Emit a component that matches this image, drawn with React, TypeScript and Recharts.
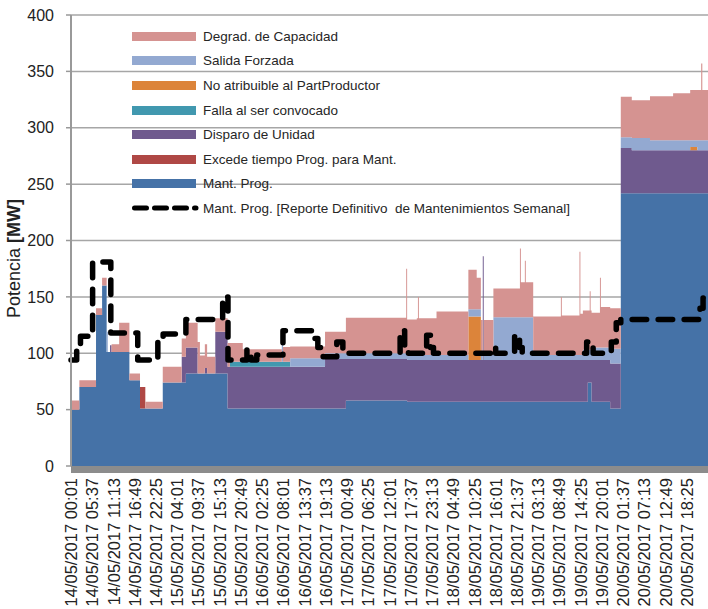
import { ComposedChart, Area, Line, XAxis, YAxis, CartesianGrid, Legend } from 'recharts'

document.body.style.margin = '0'

// hours since 14/05/2017 00:00 where the stacked values change (step after)
const hours = [0, 2.2, 6.6, 8.2, 9.4, 9.7, 10.3, 10.7, 12.7, 15.4, 18.2, 19.6, 24.2, 29.2, 30.3, 33.4, 34.0, 35.3, 35.9, 38.05, 41.3, 41.9, 45.3, 55.6, 55.9, 57.8, 67.0, 72.5, 88.4, 88.65, 91.2, 91.5, 91.75, 96.4, 104.8, 107.0, 108.1, 108.6, 108.85, 111.4, 118.4, 118.65, 119.7, 119.95, 121.9, 129.2, 129.45, 134.1, 134.35, 135.0, 136.3, 136.8, 137.05, 137.3, 139.5, 139.75, 142.2, 145.0, 147.9, 152.7, 158.8, 163.3, 165.2, 166.2, 166.5, 168]

const mantProg = [50, 70, 134, 160, 101, 101, 101, 101, 101, 76, 51, 51, 74, 74, 82, 82, 82, 82, 82, 82, 51, 51, 51, 51, 51, 51, 51, 58, 58, 57, 57, 57, 57, 57, 57, 57, 57, 57, 57, 57, 57, 57, 57, 57, 57, 57, 57, 57, 57, 57, 74, 74, 74, 57, 57, 57, 51, 242, 242, 242, 242, 242, 242, 242, 242, 242]
const excedeTiempo = [0, 0, 0, 0, 0, 0, 0, 0, 0, 0, 19, 0, 0, 0, 0, 0, 0, 0, 0, 0, 0, 0, 0, 0, 0, 0, 0, 0, 0, 0, 0, 0, 0, 0, 0, 0, 0, 0, 0, 0, 0, 0, 0, 0, 0, 0, 0, 0, 0, 0, 0, 0, 0, 0, 0, 0, 0, 0, 0, 0, 0, 0, 0, 0, 0, 0]
const disparoUnidad = [0, 0, 0, 0, 0, 0, 6, 0, 0, 0, 0, 0, 0, 23, 23, 0, 0, 5, 0, 37, 37, 37, 37, 37, 37, 37, 44, 37, 37, 37, 37, 37, 37, 37, 37, 37, 37, 129, 37, 37, 37, 37, 37, 37, 37, 37, 37, 37, 37, 37, 20, 20, 20, 37, 37, 37, 40, 40, 38, 38, 38, 38, 38, 38, 38, 38]
const fallaConvocado = [0, 0, 0, 0, 0, 0, 0, 0, 0, 0, 0, 0, 0, 0, 0, 0, 0, 0, 0, 0, 0, 4.5, 4.5, 4.5, 4.5, 0, 0, 0, 0, 0, 0, 0, 0, 0, 0, 0, 0, 0, 0, 0, 0, 0, 0, 0, 0, 0, 0, 0, 0, 0, 0, 0, 0, 0, 0, 0, 0, 0, 0, 0, 0, 0, 0, 0, 0, 0]
const noAtribuible = [0, 0, 0, 0, 0, 0, 0, 0, 0, 0, 0, 0, 0, 0, 0, 0, 0, 0, 0, 0, 0, 0, 0, 0, 0, 0, 0, 0, 0, 0, 0, 0, 0, 0, 38.5, 38.5, 0, 0, 0, 0, 0, 0, 0, 0, 0, 0, 0, 0, 0, 0, 0, 0, 0, 0, 0, 0, 0, 0, 0, 0, 0, 3, 0, 0, 0, 0]
const salidaForzada = [0, 0, 0, 0, 18, 0, 0, 0, 0, 0, 0, 0, 0, 0, 0, 0, 0, 0, 0, 0, 0, 0, 0, 25.5, 0, 7.5, 5, 5, 5, 4.5, 4.5, 4.5, 4.5, 4.5, 6.5, 6.5, 4.5, 0, 4.5, 38, 38, 38, 38, 38, 4.5, 4.5, 4.5, 4.5, 4.5, 9, 9, 9, 9, 11, 11, 11, 13, 9.5, 11, 9, 9, 6, 9, 9, 9, 9]
const degradCapacidad = [8, 6, 6, 7, 0, 0, 0, 7, 26, 6, 0, 6, 14, 16, 22, 28, 16, 21, 15, 12, 21, 16.5, 11, 0, 13, 10.5, 19, 31.5, 75, 31.5, 32.5, 51.5, 32.5, 38.5, 35, 28, 31, 0, 31, 25.5, 61, 31, 50, 31, 34, 51.5, 35, 91.5, 36.5, 35, 35, 52, 35, 31, 62, 36, 36, 36, 33.5, 39, 41.5, 44.5, 44.5, 68, 44.5, 44.5]

// Mant. Prog. [Reporte Definitivo de Mantenimientos Semanal]
const reporteHours = [0, 1.5, 2.5, 5.7, 10.5, 17.6, 22.9, 24.3, 30.3, 40.0, 41.4, 46.4, 47.5, 49.0, 55.9, 63.8, 65.1, 66.5, 70.1, 71.7, 86.8, 88.0, 89.0, 93.8, 94.8, 95.6, 111.0, 112.0, 117.0, 118.3, 119.0, 136.0, 137.7, 142.5, 143.8, 145.0, 165.9, 166.7, 168]
const reporteMw = [94, 104, 115, 181, 118, 94, 115, 117, 130, 150, 94, 103, 94, 98.5, 120, 113, 105, 97, 110, 100, 120, 107, 100, 116, 105, 100, 105, 100, 116, 105, 100, 110, 100, 110, 127, 130, 140, 149, 149]

const tickHours = [0.02, 5.62, 11.22, 16.82, 22.42, 28.02, 33.62, 39.22, 44.82, 50.42, 56.02, 61.62, 67.22, 72.82, 78.42, 84.02, 89.62, 95.22, 100.82, 106.42, 112.02, 117.62, 123.22, 128.82, 134.42, 140.02, 145.62, 151.22, 156.82, 162.42]
const tickLabels = [
    '14/05/2017 00:01', '14/05/2017 05:37', '14/05/2017 11:13', '14/05/2017 16:49', '14/05/2017 22:25',
    '15/05/2017 04:01', '15/05/2017 09:37', '15/05/2017 15:13', '15/05/2017 20:49',
    '16/05/2017 02:25', '16/05/2017 08:01', '16/05/2017 13:37', '16/05/2017 19:13',
    '17/05/2017 00:49', '17/05/2017 06:25', '17/05/2017 12:01', '17/05/2017 17:37', '17/05/2017 23:13',
    '18/05/2017 04:49', '18/05/2017 10:25', '18/05/2017 16:01', '18/05/2017 21:37',
    '19/05/2017 03:13', '19/05/2017 08:49', '19/05/2017 14:25', '19/05/2017 20:01',
    '20/05/2017 01:37', '20/05/2017 07:13', '20/05/2017 12:49', '20/05/2017 18:25',
]
const yTicks = [0, 50, 100, 150, 200, 250, 300, 350, 400]

// stack order, bottom to top
const seriesKeys = ['mant', 'excede', 'disparo', 'falla', 'noAtrib', 'salida', 'degrad']
const seriesNames = ['Mant. Prog.', 'Excede tiempo Prog. para Mant.', 'Disparo de Unidad', 'Falla al ser convocado', 'No atribuible al PartProductor', 'Salida Forzada', 'Degrad. de Capacidad']
const seriesColors = ['#4572A7', '#AF4845', '#6F5A8E', '#4198AF', '#DC843A', '#93A9D1', '#D59391']
const reporteName = 'Mant. Prog. [Reporte Definitivo  de Mantenimientos Semanal]'

const seriesValues = [mantProg, excedeTiempo, disparoUnidad, fallaConvocado, noAtribuible, salidaForzada, degradCapacidad]

const data = hours.map((h, i) => {
    const row: Record<string, number> = { h }
    seriesKeys.forEach((k, s) => { row[k] = seriesValues[s][i] })
    return row
})

const reporteData = reporteHours.map((h, i) => ({ h, mw: reporteMw[i] }))

const FONT = '"Liberation Sans", Arial, sans-serif'

function XTick(props: any) {
    const { x, y, index } = props
    const tx = x + 6
    const ty = y + 12
    return (
        <text x={tx} y={ty} transform={`rotate(-90 ${tx} ${ty})`} textAnchor="end" fontSize={16.5} fill="#222">
            {tickLabels[index]}
        </text>
    )
}

function YLabel(props: any) {
    const { viewBox } = props
    const cx = viewBox.x + 14
    const cy = viewBox.y + viewBox.height / 2 + 18
    return (
        <text x={cx} y={cy} transform={`rotate(-90 ${cx} ${cy})`} textAnchor="middle" dominantBaseline="central" fontSize={18} fill="#222">
            <tspan>Potencia </tspan>
            <tspan fontWeight="bold">[MW]</tspan>
        </text>
    )
}

function LegendBox() {
    const order = seriesKeys.map((_, i) => i).reverse()
    const row = { display: 'flex', alignItems: 'center', height: 24.6 }
    return (
        <div style={{ fontFamily: FONT, fontSize: 13.5, color: '#262626', whiteSpace: 'pre' }}>
            {order.map(i => (
                <div key={seriesKeys[i]} style={row}>
                    <div style={{ width: 64, height: 9, background: seriesColors[i], marginRight: 7 }} />
                    <span>{seriesNames[i]}</span>
                </div>
            ))}
            <div style={row}>
                <svg width={64} height={10} style={{ marginRight: 7, overflow: 'visible' }}>
                    <line x1={2.5} y1={5} x2={64} y2={5} stroke="#000" strokeWidth={5} strokeDasharray="12 8" strokeLinecap="round" />
                </svg>
                <span>{reporteName}</span>
            </div>
        </div>
    )
}

export default function App() {
    return (
        <div style={{ width: 708, height: 609, fontFamily: FONT, background: '#fff' }}>
            <ComposedChart width={708} height={609} data={data} margin={{ top: 15, right: 0, bottom: 0, left: 0 }}>
                <CartesianGrid vertical={false} stroke="#a6a6a6" strokeWidth={1.5} />
                <XAxis
                    dataKey="h"
                    type="number"
                    domain={[0, 168]}
                    ticks={tickHours}
                    interval={0}
                    height={143}
                    tickLine={false}
                    tickSize={0}
                    tickMargin={0}
                    tick={XTick}
                    axisLine={{ stroke: '#8c8c8c', strokeWidth: 7, transform: 'translate(0 3.5)' }}
                />
                <YAxis
                    type="number"
                    domain={[0, 400]}
                    ticks={yTicks}
                    width={71}
                    tickSize={5}
                    tickMargin={12}
                    tick={{ fill: '#222', fontSize: 16 }}
                    tickLine={{ stroke: '#999', strokeWidth: 1.5 }}
                    axisLine={{ stroke: '#999', strokeWidth: 2 }}
                    label={{ content: YLabel }}
                />
                <Legend
                    layout="vertical"
                    align="center"
                    verticalAlign="middle"
                    content={LegendBox}
                    wrapperStyle={{ left: 132, top: 24, width: 480 }}
                />
                {seriesKeys.map((k, i) => (
                    <Area
                        key={k}
                        dataKey={k}
                        name={seriesNames[i]}
                        stackId="a"
                        type="stepAfter"
                        fill={seriesColors[i]}
                        fillOpacity={1}
                        stroke="none"
                        isAnimationActive={false}
                    />
                ))}
                <Line
                    data={reporteData}
                    dataKey="mw"
                    name={reporteName}
                    type="stepAfter"
                    stroke="#000"
                    strokeWidth={5.5}
                    strokeDasharray="14.5 11.5"
                    strokeLinecap="round"
                    strokeLinejoin="round"
                    dot={false}
                    activeDot={false}
                    isAnimationActive={false}
                />
            </ComposedChart>
        </div>
    )
}
